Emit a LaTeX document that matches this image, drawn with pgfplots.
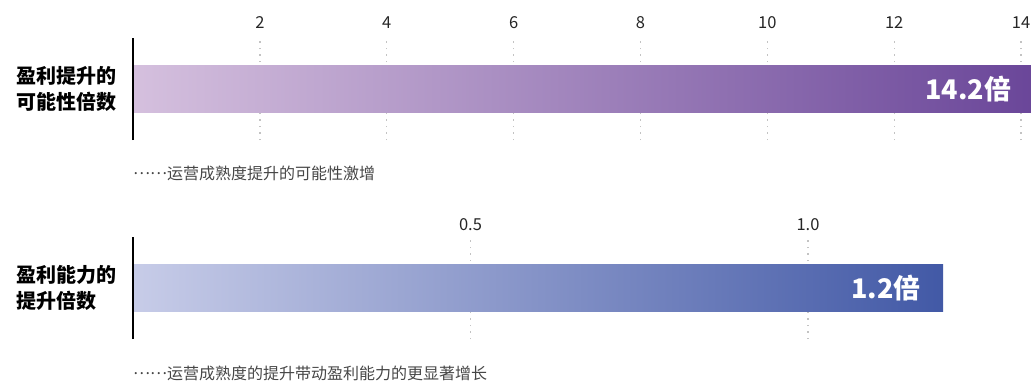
\documentclass[border=0pt]{standalone}
\usepackage{fontspec}
\setmainfont{Noto Sans CJK SC}
\usepackage{pgfplots}
\pgfplotsset{compat=1.18}
\definecolor{pA}{RGB}{213,192,222}
\definecolor{pB}{RGB}{106,70,153}
\definecolor{bA}{RGB}{199,204,232}
\definecolor{bB}{RGB}{66,89,166}
\definecolor{gridc}{RGB}{195,195,195}
\definecolor{notec}{RGB}{70,70,70}
\newcommand{\dotsmid}{\raisebox{4.5pt}{……}}
\pgfplotsset{
  barstyle/.style={
    scale only axis,
    separate axis lines,
    axis x line*=top, axis y line*=left,
    axis line style={draw=none},
    ytick=\empty,
    major tick length=0pt,
    xmajorgrids,
    grid style={gridc, line width=1.3pt, dash pattern=on 1.3pt off 5.2pt},
    xticklabel style={font=\fontsize{16.5}{16}\selectfont, text=black!85, yshift=6pt},
    xbar, bar width=47pt,
    ymin=-1, ymax=1,
    clip=false,
    /pgf/number format/assume math mode=true,
    nodes near coords={\pgfmathprintnumber[fixed,fixed zerofill,precision=1]{\pgfplotspointmeta}倍},
    nodes near coords style={font=\bfseries\fontsize{27}{27}\selectfont, text=white, anchor=east, xshift=-19pt},
  }
}
\begin{document}
\begin{tikzpicture}
\useasboundingbox (0,0) rectangle (1031pt,-381pt);
% top panel
\begin{axis}[barstyle,
  at={(133pt,-140pt)}, anchor=south west,
  width=895pt, height=102pt,
  xmin=0, xmax=14.11,
  xtick={2,4,6,8,10,12,14},
  xticklabel={\pgfmathprintnumber[fixed,precision=0]{\tick}},
]
\addplot[draw=none, left color=pA, right color=pB] coordinates {(14.2,0)};
\draw[line width=2pt] (rel axis cs:0,0) -- (rel axis cs:0,1);
\end{axis}
\node[anchor=west, align=left, font=\bfseries\fontsize{20}{26}\selectfont] at (13pt,-89pt) {盈利提升的\\可能性倍数};
\node[anchor=west, font=\fontsize{16}{16}\selectfont, text=notec, inner sep=0pt] at (133pt,-173pt) {\dotsmid 运营成熟度提升的可能性激增};
% bottom panel
\begin{axis}[barstyle,
  at={(133pt,-339pt)}, anchor=south west,
  width=891pt, height=102pt,
  xmin=0, xmax=1.32,
  xtick={0.5,1.0},
  xticklabel={\pgfmathprintnumber[fixed,fixed zerofill,precision=1]{\tick}},
  xticklabel style={yshift=-3pt},
]
\addplot[draw=none, left color=bA, right color=bB] coordinates {(1.2,0)};
\draw[line width=2pt] (rel axis cs:0,0) -- (rel axis cs:0,1);
\end{axis}
\node[anchor=west, align=left, font=\bfseries\fontsize{20}{26}\selectfont] at (13pt,-288pt) {盈利能力的\\提升倍数};
\node[anchor=west, font=\fontsize{16}{16}\selectfont, text=notec, inner sep=0pt] at (133pt,-373pt) {\dotsmid 运营成熟度的提升带动盈利能力的更显著增长};
\end{tikzpicture}
\end{document}
